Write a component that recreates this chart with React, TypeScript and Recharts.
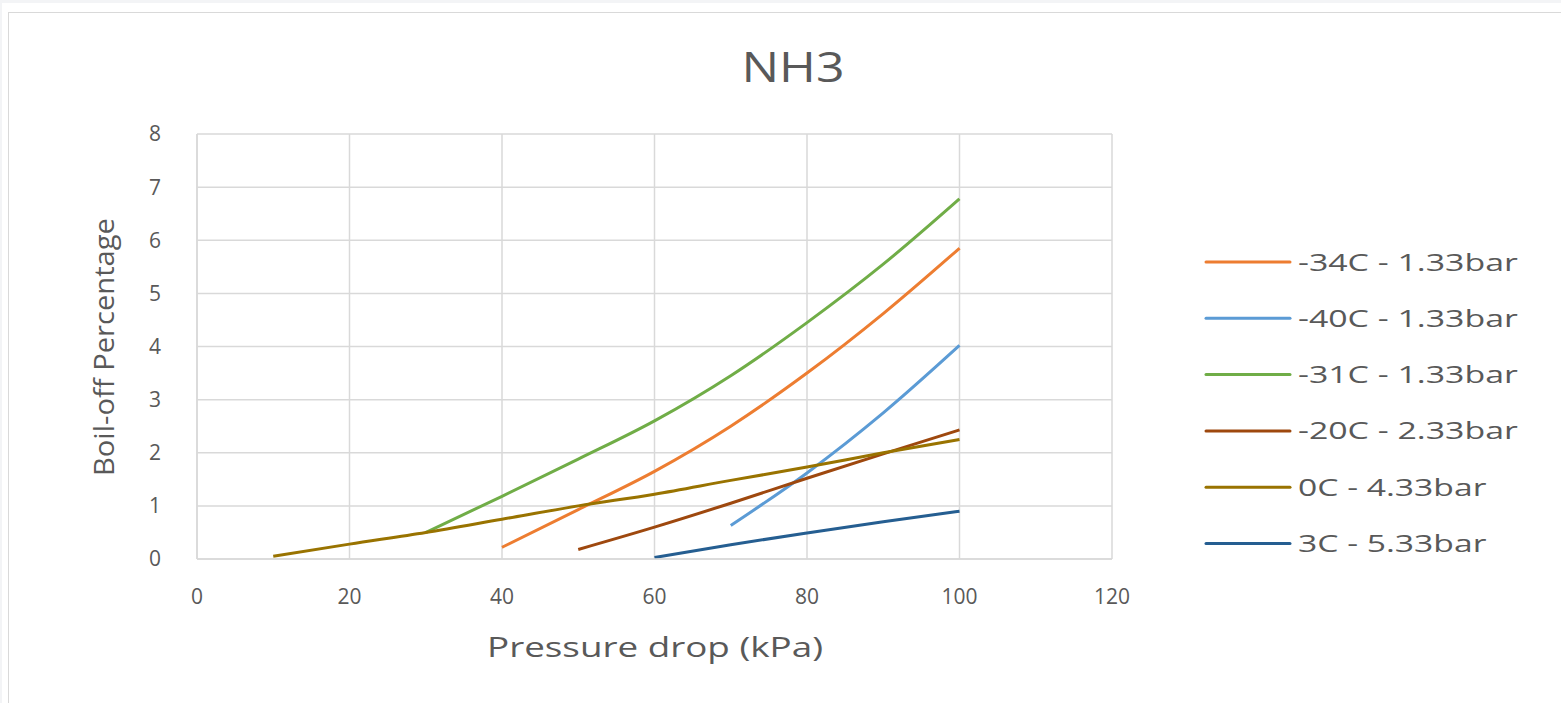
import { LineChart, Line, XAxis, YAxis, CartesianGrid, Label } from 'recharts';

// pressure drop values (kPa)
const xValues = [10, 20, 30, 40, 50, 60, 70, 80, 90, 100];

// boil-off % per series, null where the series has no point
const minus34 = [null, null, null, 0.22, 0.93, 1.65, 2.5, 3.5, 4.62, 5.85];
const minus40 = [null, null, null, null, null, null, 0.63, 1.62, 2.75, 4.02];
const minus31 = [null, null, 0.5, 1.18, 1.88, 2.6, 3.45, 4.45, 5.55, 6.78];
const minus20 = [null, null, null, null, 0.18, 0.6, 1.05, 1.52, 1.98, 2.43];
const zeroC = [0.05, 0.28, 0.5, 0.75, 1.0, 1.22, 1.48, 1.73, 2.0, 2.25];
const threeC = [null, null, null, null, null, 0.03, 0.27, 0.49, 0.7, 0.9];

const xTicks = [0, 20, 40, 60, 80, 100, 120];
const yTicks = [0, 1, 2, 3, 4, 5, 6, 7, 8];

const SERIES = [
  { key: 's34', name: '-34C - 1.33bar', color: '#ED7D31', values: minus34 },
  { key: 's40', name: '-40C - 1.33bar', color: '#5B9BD5', values: minus40 },
  { key: 's31', name: '-31C - 1.33bar', color: '#70AD47', values: minus31 },
  { key: 's20', name: '-20C - 2.33bar', color: '#9E480E', values: minus20 },
  { key: 's0', name: '0C - 4.33bar', color: '#997300', values: zeroC },
  { key: 's3', name: '3C - 5.33bar', color: '#255E91', values: threeC },
];

const data = xValues.map((x, i) => {
  const row: Record<string, number | null> = { x };
  SERIES.forEach((s) => {
    row[s.key] = s.values[i];
  });
  return row;
});

const TEXT = '#595959';
const FONT = '"Open Sans", sans-serif';

// legend drawn beside the plot, like Excel's right-hand legend
function ChartLegend() {
  return (
    <svg width={340} height={340} style={{ position: 'absolute', left: 1200, top: 234 }}>
      {SERIES.map((s, i) => {
        const cy = 28 + i * 56.3;
        return (
          <g key={s.key}>
            <line x1={6} x2={90} y1={cy} y2={cy} stroke={s.color} strokeWidth={3} strokeLinecap="round" />
            <text
              x={98}
              y={cy + 8.5}
              fontFamily={FONT}
              fontSize={24}
              fill={TEXT}
              textLength={s.name.length * 15.7}
              lengthAdjust="spacingAndGlyphs"
            >
              {s.name}
            </text>
          </g>
        );
      })}
    </svg>
  );
}

export default function App() {
  return (
    <div style={{ position: 'absolute', left: 0, top: 0, width: 1561, height: 703, background: '#f3f4f6', overflow: 'hidden' }}>
      <div style={{ position: 'absolute', left: 2, top: 3, right: 0, bottom: 0, background: '#fff' }} />
      <div style={{ position: 'absolute', left: 8, top: 12, width: 1600, height: 720, border: '1px solid #d9d9d9', background: '#fff' }} />
      <div style={{ position: 'absolute', left: 0, top: 0 }}>
        <LineChart
          width={1561}
          height={703}
          data={data}
          margin={{ top: 134, right: 449, bottom: 84, left: 0 }}
        >
          <text x={793} y={82} textAnchor="middle" fontFamily={FONT} fontSize={42} fill={TEXT} textLength={103} lengthAdjust="spacingAndGlyphs">
            NH3
          </text>
          <CartesianGrid stroke="#d9d9d9" strokeWidth={1.5} />
          <XAxis
            dataKey="x"
            type="number"
            domain={[0, 120]}
            ticks={xTicks}
            interval={0}
            height={60}
            tickSize={0}
            tickMargin={30}
            axisLine={{ stroke: '#d9d9d9', strokeWidth: 1.5 }}
            tick={{ fill: TEXT, fontSize: 21, fontFamily: FONT }}
          >
            <Label
              content={() => (
                <text x={655} y={657} textAnchor="middle" fontFamily={FONT} fontSize={28} fill={TEXT} textLength={336} lengthAdjust="spacingAndGlyphs">
                  Pressure drop (kPa)
                </text>
              )}
            />
          </XAxis>
          <YAxis
            type="number"
            domain={[0, 8]}
            ticks={yTicks}
            interval={0}
            width={197}
            tickSize={0}
            tickMargin={36}
            axisLine={{ stroke: '#d9d9d9', strokeWidth: 1.5 }}
            tick={{ fill: TEXT, fontSize: 21, fontFamily: FONT }}
          >
            <Label
              content={() => (
                <text
                  x={114}
                  y={347}
                  transform="rotate(-90 114 347)"
                  textAnchor="middle"
                  fontFamily={FONT}
                  fontSize={28}
                  fill={TEXT}
                  textLength={258}
                  lengthAdjust="spacingAndGlyphs"
                >
                  Boil-off Percentage
                </text>
              )}
            />
          </YAxis>
          {SERIES.map((s) => (
            <Line
              key={s.key}
              dataKey={s.key}
              name={s.name}
              type="monotone"
              stroke={s.color}
              strokeWidth={3}
              dot={false}
              activeDot={false}
              isAnimationActive={false}
            />
          ))}
        </LineChart>
      </div>
      <ChartLegend />
    </div>
  );
}
